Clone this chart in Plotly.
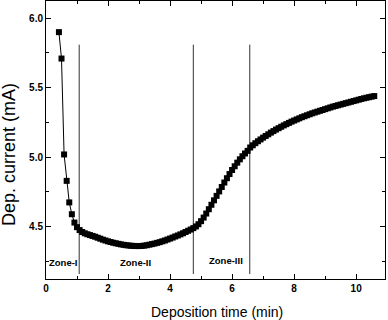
import plotly.graph_objects as go

# Sampling times in seconds (every 5 s)
time_s = [25, 30, 35, 40, 45, 50, 55, 60, 65, 70, 75, 80, 85, 90, 95, 100,
          105, 110, 115, 120, 125, 130, 135, 140, 145, 150, 155, 160, 165, 170,
          175, 180, 185, 190, 195, 200, 205, 210, 215, 220, 225, 230, 235, 240,
          245, 250, 255, 260, 265, 270, 275, 280, 285, 290, 295, 300, 305, 310,
          315, 320, 325, 330, 335, 340, 345, 350, 355, 360, 365, 370, 375, 380,
          385, 390, 395, 400, 405, 410, 415, 420, 425, 430, 435, 440, 445, 450,
          455, 460, 465, 470, 475, 480, 485, 490, 495, 500, 505, 510, 515, 520,
          525, 530, 535, 540, 545, 550, 555, 560, 565, 570, 575, 580, 585, 590,
          595, 600, 605, 610, 615, 620, 625, 630, 635]

current_mA = [5.90, 5.71, 5.02, 4.83, 4.675, 4.59, 4.53, 4.497, 4.476, 4.462,
              4.453, 4.446, 4.440, 4.434, 4.428, 4.421, 4.414, 4.407, 4.401, 4.395,
              4.390, 4.385, 4.381, 4.377, 4.373, 4.370, 4.367, 4.365, 4.363, 4.362,
              4.361, 4.361, 4.362, 4.364, 4.367, 4.371, 4.375, 4.379, 4.384, 4.389,
              4.395, 4.401, 4.408, 4.415, 4.422, 4.430, 4.437, 4.445, 4.453, 4.462,
              4.471, 4.480, 4.490, 4.502, 4.518, 4.540, 4.566, 4.595, 4.626, 4.658,
              4.690, 4.722, 4.754, 4.786, 4.818, 4.849, 4.879, 4.908, 4.935, 4.961,
              4.985, 5.007, 5.027, 5.046, 5.070, 5.086, 5.101, 5.115, 5.128, 5.141,
              5.153, 5.165, 5.177, 5.188, 5.199, 5.209, 5.219, 5.229, 5.238, 5.247,
              5.256, 5.264, 5.272, 5.280, 5.288, 5.295, 5.302, 5.309, 5.316, 5.322,
              5.328, 5.334, 5.340, 5.346, 5.352, 5.358, 5.364, 5.369, 5.374, 5.379,
              5.384, 5.389, 5.394, 5.399, 5.404, 5.409, 5.414, 5.419, 5.424, 5.428,
              5.432, 5.436, 5.440]

zone_boundaries = [1.07, 4.75, 6.57]
boundary_y = [4.16, 5.81]
zone_labels = ["Zone-I", "Zone-II", "Zone-III"]
zone_label_x = [0.58, 2.89, 5.81]
zone_label_y = [4.24, 4.24, 4.26]

x_ticks = [0, 2, 4, 6, 8, 10]
y_ticks = [4.5, 5.0, 5.5, 6.0]

x_title = "Deposition time (min)"
y_title = "Dep. current (mA)"

time_min = [t / 60 for t in time_s]

fig = go.Figure()

for xb in zone_boundaries:
    fig.add_trace(go.Scatter(x=[xb, xb], y=boundary_y, mode="lines",
                             line=dict(color="#333333", width=1),
                             showlegend=False, hoverinfo="skip"))

fig.add_trace(go.Scatter(x=time_min, y=current_mA, mode="lines+markers",
                         line=dict(color="black", width=1),
                         marker=dict(symbol="square", size=6, color="black"),
                         showlegend=False))

for lbl, lx, ly in zip(zone_labels, zone_label_x, zone_label_y):
    fig.add_annotation(x=lx, y=ly, text=lbl, showarrow=False,
                       font=dict(family="Liberation Sans", size=9.5,
                                 color="black", weight="bold"))

# axis titles as annotations for precise placement
fig.add_annotation(xref="paper", yref="paper", x=0.503, y=-0.119,
                   xanchor="center", yanchor="middle", showarrow=False,
                   text=x_title,
                   font=dict(family="Liberation Sans", size=14, color="black"))
fig.add_annotation(xref="paper", yref="paper", x=-0.109, y=0.446,
                   xanchor="center", yanchor="middle", showarrow=False,
                   textangle=-90, text=y_title,
                   font=dict(family="Liberation Sans", size=18, color="black"))

axis_common = dict(
    showline=True, linecolor="black", linewidth=1, mirror="allticks",
    ticks="inside", ticklen=5, tickwidth=1, tickcolor="black",
    showgrid=False, zeroline=False, automargin=False,
    tickfont=dict(family="Liberation Sans", size=10, color="black", weight="bold"),
)

fig.update_xaxes(
    range=[0, 10.93], tickvals=x_ticks, ticktext=[str(v) for v in x_ticks],
    minor=dict(ticks="inside", ticklen=3, dtick=1, tick0=0, tickcolor="black"),
    **axis_common)

fig.update_yaxes(
    range=[4.124, 6.124], tickvals=y_ticks, ticktext=[f"{v:.1f}" for v in y_ticks],
    minor=dict(ticks="inside", ticklen=3, dtick=0.25, tick0=4.25, tickcolor="black"),
    **axis_common)

fig.update_layout(
    width=388, height=320,
    margin=dict(l=46, r=3, t=1, b=41),
    paper_bgcolor="white", plot_bgcolor="white",
)

fig.write_html("out.html", config={"displayModeBar": False},
               post_script="document.body.style.margin='0';document.body.style.overflow='hidden';")
